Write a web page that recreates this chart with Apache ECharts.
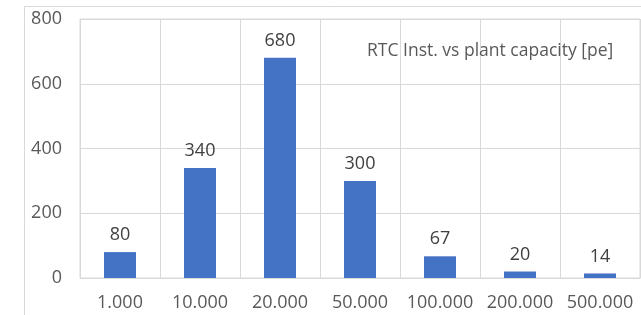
<!DOCTYPE html>
<html>
<head>
<meta charset="utf-8">
<script src="https://cdn.jsdelivr.net/npm/echarts@6/dist/echarts.min.js"></script>
<style>
  html, body { margin: 0; padding: 0; background: #fff; }
  #chart { width: 641px; height: 315px; }
</style>
</head>
<body>
<div id="chart"></div>
<script>
const categories = ['1.000', '10.000', '20.000', '50.000', '100.000', '200.000', '500.000']
const installations = [80, 340, 680, 300, 67, 20, 14]
const titleText = 'RTC Inst. vs plant capacity [pe]'

const chart = echarts.init(document.getElementById('chart'))

const option = {
  animation: false,
  textStyle: { fontFamily: 'Open Sans' },
  title: {
    text: titleText,
    left: 362,
    top: 37,
    textStyle: { fontSize: 17.5, fontWeight: 'normal', color: '#595959', fontFamily: 'Open Sans' }
  },
  graphic: [
    {
      type: 'rect',
      shape: { x: 24.5, y: 6.5, width: 700, height: 400 },
      style: { fill: 'none', stroke: '#d9d9d9', lineWidth: 1 },
      silent: true
    }
  ],
  grid: {
    left: 80,
    top: 19,
    right: 1,
    bottom: 37,
    show: true,
    borderColor: '#d9d9d9',
    borderWidth: 1
  },
  xAxis: {
    type: 'category',
    data: categories,
    axisLine: { lineStyle: { color: '#d9d9d9' } },
    axisTick: { show: false },
    axisLabel: { fontSize: 18, color: '#595959', margin: 16, interval: 0 },
    splitLine: { show: true, lineStyle: { color: '#d9d9d9' } }
  },
  yAxis: {
    type: 'value',
    min: 0,
    max: 800,
    interval: 200,
    axisLine: { show: false },
    axisTick: { show: false },
    axisLabel: { fontSize: 18, color: '#595959', margin: 18 },
    splitLine: { lineStyle: { color: '#d9d9d9' } }
  },
  series: [
    {
      type: 'bar',
      data: installations,
      barWidth: 32,
      itemStyle: { color: '#4472c4' },
      label: {
        show: true,
        position: 'top',
        distance: 8,
        fontSize: 18,
        color: '#404040'
      }
    }
  ]
}

chart.setOption(option)
</script>
</body>
</html>
